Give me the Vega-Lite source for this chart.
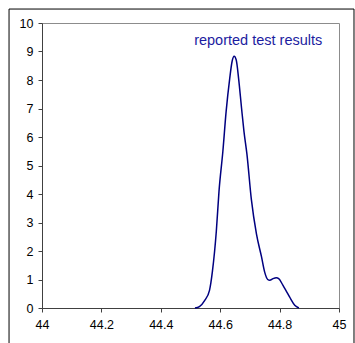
{
  "$schema": "https://vega.github.io/schema/vega-lite/v6.json",
  "width": 297,
  "height": 285,
  "autosize": {"type": "none"},
  "padding": {"left": 42, "top": 23, "right": 16, "bottom": 35},
  "background": "white",
  "config": {
    "view": {"stroke": "#8c8c8c", "strokeWidth": 1},
    "font": "Liberation Sans",
    "axis": {
      "grid": false,
      "domainColor": "#404040",
      "tickColor": "#404040",
      "tickSize": 4,
      "labelColor": "black",
      "labelFont": "Liberation Sans",
      "labelFontSize": 12.5,
      "labelOverlap": false,
      "title": null
    }
  },
  "datasets": {
    "curve": [
      {"x": 44.515, "y": 0},
      {"x": 44.53, "y": 0.05},
      {"x": 44.548, "y": 0.27},
      {"x": 44.564, "y": 0.62},
      {"x": 44.574, "y": 1.3},
      {"x": 44.587, "y": 2.7},
      {"x": 44.596, "y": 4.1},
      {"x": 44.609, "y": 5.5},
      {"x": 44.62, "y": 6.9},
      {"x": 44.632, "y": 8.05},
      {"x": 44.64, "y": 8.65},
      {"x": 44.647, "y": 8.83},
      {"x": 44.654, "y": 8.7},
      {"x": 44.662, "y": 8.05},
      {"x": 44.672, "y": 7.0},
      {"x": 44.68, "y": 6.2},
      {"x": 44.69, "y": 5.4},
      {"x": 44.705, "y": 3.8},
      {"x": 44.722, "y": 2.6},
      {"x": 44.739, "y": 1.8},
      {"x": 44.75, "y": 1.25},
      {"x": 44.76, "y": 1.0},
      {"x": 44.767, "y": 0.97},
      {"x": 44.778, "y": 1.03},
      {"x": 44.789, "y": 1.06},
      {"x": 44.797, "y": 1.03},
      {"x": 44.811, "y": 0.8},
      {"x": 44.822, "y": 0.6},
      {"x": 44.834, "y": 0.38},
      {"x": 44.851, "y": 0.1},
      {"x": 44.865, "y": 0}
    ],
    "one": [{}]
  },
  "layer": [
    {
      "data": {"name": "curve"},
      "mark": {"type": "line", "color": "#000080", "strokeWidth": 1.5, "interpolate": "monotone", "clip": false},
      "encoding": {
        "x": {"field": "x", "type": "quantitative", "scale": {"domain": [44, 45], "nice": false, "zero": false},
          "axis": {"values": [44, 44.2, 44.4, 44.6, 44.8, 45], "format": "~g", "labelPadding": 6, "labelFlush": false}},
        "y": {"field": "y", "type": "quantitative", "scale": {"domain": [0, 10], "nice": false},
          "axis": {"values": [0, 1, 2, 3, 4, 5, 6, 7, 8, 9, 10], "labelOverlap": false, "labelPadding": 5}}
      }
    },
    {
      "data": {"name": "one"},
      "mark": {"type": "text", "text": "reported  test results", "color": "#1c1ca0", "fontSize": 14.5, "font": "Liberation Sans", "align": "center", "baseline": "alphabetic"},
      "encoding": {
        "x": {"datum": 44.728, "type": "quantitative",
          "axis": {"values": [44, 44.2, 44.4, 44.6, 44.8, 45], "format": "~g", "labelPadding": 6, "labelFlush": false}},
        "y": {"datum": 9.22, "type": "quantitative",
          "axis": {"values": [0, 1, 2, 3, 4, 5, 6, 7, 8, 9, 10], "labelOverlap": false, "labelPadding": 5}}
      }
    },
    {
      "data": {"name": "one"},
      "mark": {"type": "rect", "fill": null, "fillOpacity": 0, "stroke": "black", "strokeWidth": 1, "clip": false},
      "encoding": {
        "x": {"datum": 43.889, "type": "quantitative",
          "axis": {"values": [44, 44.2, 44.4, 44.6, 44.8, 45], "format": "~g", "labelPadding": 6, "labelFlush": false}},
        "x2": {"datum": 45.0505},
        "y": {"datum": 10.49, "type": "quantitative",
          "axis": {"values": [0, 1, 2, 3, 4, 5, 6, 7, 8, 9, 10], "labelOverlap": false, "labelPadding": 5}},
        "y2": {"datum": -2}
      }
    }
  ]
}
